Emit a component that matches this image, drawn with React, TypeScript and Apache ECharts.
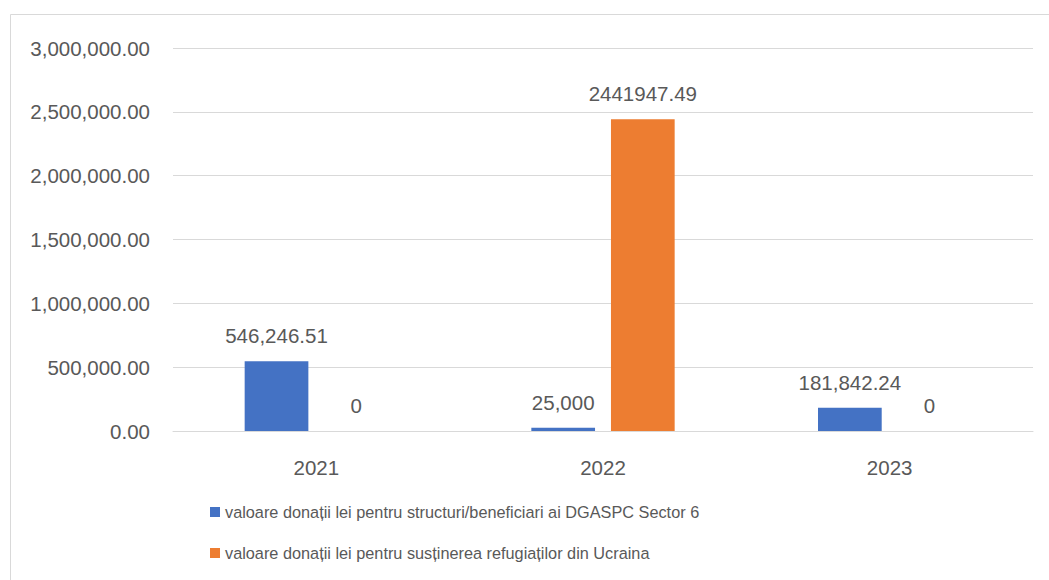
import React, { useEffect, useRef } from "react";
import * as echarts from "echarts";

const categories = ["2021", "2022", "2023"];
const seriesNames = [
  "valoare donații lei pentru structuri/beneficiari ai DGASPC Sector 6",
  "valoare donații lei pentru susținerea refugiaților din Ucraina",
];
const valuesA = [546246.51, 25000, 181842.24];
const valuesB = [0, 2441947.49, 0];
const labelsA = ["546,246.51", "25,000", "181,842.24"];
const labelsB = ["0", "2441947.49", "0"];
const yTicks = { min: 0, max: 3000000, interval: 500000 };

const FONT = "Liberation Sans";
const TXT = "#595959";
const NUM_SIZE = 20.5;

export default function App() {
  const ref = useRef<HTMLDivElement>(null);
  useEffect(() => {
    if (!ref.current) return;
    const chart = echarts.init(ref.current, null, { renderer: "svg" });
    const fmt = (v: number) =>
      v.toLocaleString("en-US", { minimumFractionDigits: 2, maximumFractionDigits: 2 });
    const legendCommon = {
      left: 210,
      padding: 0,
      itemWidth: 10,
      itemHeight: 10,
      itemGap: 4,
      icon: "rect",
      textStyle: { fontFamily: FONT, fontSize: 16.3, color: TXT },
    };
    chart.setOption({
      animation: false,
      backgroundColor: "#ffffff",
      textStyle: { fontFamily: FONT, color: TXT },
      graphic: [
        {
          type: "rect",
          shape: { x: 10.5, y: 14.5, width: 1100, height: 700 },
          style: { fill: "none", stroke: "#d9d9d9", lineWidth: 1 },
          silent: true,
        },
      ],
      grid: { left: 173, right: 16, top: 48, bottom: 149, containLabel: false },
      legend: [
        { ...legendCommon, data: [seriesNames[0]], top: 504 },
        { ...legendCommon, data: [seriesNames[1]], top: 545 },
      ],
      xAxis: {
        type: "category",
        data: categories,
        axisLine: { lineStyle: { color: "#d9d9d9" } },
        axisTick: { show: false },
        axisLabel: { color: TXT, fontSize: NUM_SIZE, fontFamily: FONT, margin: 26 },
      },
      yAxis: {
        type: "value",
        min: yTicks.min,
        max: yTicks.max,
        interval: yTicks.interval,
        axisLine: { show: false },
        axisTick: { show: false },
        splitLine: { lineStyle: { color: "#d9d9d9" } },
        axisLabel: { color: TXT, fontSize: NUM_SIZE, fontFamily: FONT, margin: 23, formatter: fmt },
      },
      series: [
        {
          name: seriesNames[0],
          type: "bar",
          data: valuesA,
          itemStyle: { color: "#4472C4" },
          barGap: "25%",
          barCategoryGap: "50%",
          label: {
            show: true,
            position: "top",
            distance: 15,
            color: TXT,
            fontSize: NUM_SIZE,
            fontFamily: FONT,
            formatter: (p: any) => labelsA[p.dataIndex],
          },
        },
        {
          name: seriesNames[1],
          type: "bar",
          data: valuesB,
          itemStyle: { color: "#ED7D31" },
          barGap: "25%",
          barCategoryGap: "50%",
          label: {
            show: true,
            position: "top",
            distance: 15,
            color: TXT,
            fontSize: NUM_SIZE,
            fontFamily: FONT,
            formatter: (p: any) => labelsB[p.dataIndex],
          },
        },
      ],
    });
    return () => chart.dispose();
  }, []);
  return (
    <div
      ref={ref}
      style={{ position: "fixed", left: 0, top: 0, width: 1049, height: 580 }}
    />
  );
}
